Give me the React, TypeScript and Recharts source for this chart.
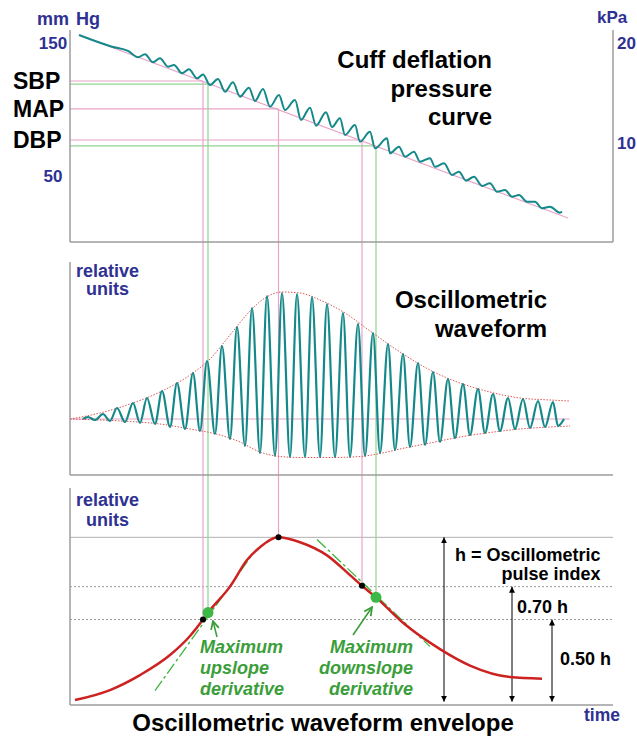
import {
  ComposedChart,
  Line,
  ReferenceDot,
  ReferenceLine,
  XAxis,
  YAxis,
} from 'recharts'

const FONT = '"Liberation Sans", Arial, Helvetica, sans-serif'
const NAVY = '#2e3192'
const TEAL = '#15898a'
const PINK = '#e8a3c8'
const GREEN_LINE = '#8fd48f'
const GREEN = '#3a9e3a'
const RED = '#cc2222'
const AXIS = '#9c9c9c'

// shared time axis (arbitrary units)
const TIME_MAX = 543

// --- cuff deflation pressure curve (mmHg) ---
const pressureTime = [
  9, 42, 58, 68, 75, 83, 90, 98, 104, 112, 119, 127, 133, 140, 148, 155, 163, 170, 179, 185,
  193, 200, 209, 215, 225, 231, 240, 246, 256, 262, 270, 275, 285, 290, 300, 305, 317, 320, 329, 335,
  344, 350, 360, 365, 374, 382, 389, 396, 404, 412, 420, 427, 435, 442, 449, 457, 465, 472, 480, 490,
  492,
]
const pressureMmHg = [
  156.2, 147.4, 144.2, 139.4, 141.7, 135.6, 138.6, 132.3, 133.6, 127.3, 130.3, 123.5, 126.4, 118.5, 123.0, 113.4, 120.5, 109.7, 116.5, 106.4,
  115.5, 102.1, 110.9, 99.6, 107.2, 92.1, 101.4, 87.8, 97.9, 86.8, 93.4, 80.8, 88.3, 75.7, 83.2, 70.7, 78.3, 66.9, 71.9, 64.4,
  68.2, 60.6, 63.2, 56.8, 59.4, 50.6, 53.1, 46.3, 49.3, 42.3, 44.3, 38.0, 39.2, 34.2, 35.5, 30.4, 30.4, 25.4, 26.6, 22.1,
  23.0,
]
const cuffBaseTime = [9, 498]
const cuffBaseMmHg = [156.2, 18.1]

const pressureTicks = [150, 121.5, 100.4, 77, 50]
const pressureTickLabels = ['150', 'SBP', 'MAP', 'DBP', '50']
const kpaTicks = [10, 20]

// --- oscillometric waveform (relative units) ---
const waveTime = [
  13, 18, 25, 33, 40, 47, 55, 63, 70, 77, 85, 92, 100, 107, 115, 123, 130, 137, 145, 152,
  160, 167, 175, 182, 190, 197, 205, 212, 220, 227, 235, 242, 250, 257, 265, 273, 280, 288, 295, 303,
  310, 318, 325, 333, 340, 348, 355, 363, 370, 378, 385, 393, 400, 408, 415, 423, 430, 438, 445, 453,
  460, 468, 475, 483, 488, 494,
]
const waveValue = [
  0, 2, -1, 5, -2, 11, -3, 16, -4, 21, -5, 28, -8, 36, -10, 46, -12, 58, -15, 73,
  -20, 92, -27, 111, -34, 123, -37, 126, -38, 125, -38, 122, -38, 115, -38, 106, -38, 95, -37, 86,
  -34, 75, -31, 65, -28, 56, -26, 47, -23, 40, -19, 35, -16, 30, -14, 25, -12, 21, -10, 20,
  -9, 18, -8, 17, -7, 0,
]
const upperEnvTime = [0, 30, 60, 90, 120, 140, 160, 180, 195, 212, 230, 250, 275, 300, 330, 360, 390, 420, 450, 480, 500]
const upperEnvValue = [0, 6, 15, 27, 44, 60, 84, 108, 121, 127, 126, 119, 106, 88, 67, 49, 36, 27, 21, 19, 18]
const lowerEnvTime = [0, 30, 60, 90, 120, 150, 170, 190, 210, 230, 260, 290, 310, 330, 360, 390, 420, 450, 480, 500]
const lowerEnvValue = [0, -1, -2.5, -5, -10, -16, -23, -33, -37.5, -38.5, -38.5, -37.5, -34.5, -30, -24, -18, -13.5, -10, -8, -7]

// --- oscillometric waveform envelope (fraction of h) ---
const envelopeTime = [5, 40, 70, 100, 120, 133, 138, 160, 177, 190, 208, 230, 257, 280, 292, 306, 333, 370, 400, 440, 472]
const envelopeValue = [0.01, 0.071, 0.162, 0.284, 0.4, 0.5, 0.542, 0.7, 0.862, 0.94, 1.0, 0.97, 0.89, 0.77, 0.705, 0.635, 0.48, 0.32, 0.22, 0.15, 0.14]
const upTangentTime = [85, 182]
const upTangentValue = [0.067, 0.892]
const downTangentTime = [247, 360]
const downTangentValue = [0.987, 0.335]
const levelLines = [1, 0.7, 0.5]
const hArrowTime = [374, 442, 482]
const hArrowLevel = [1, 0.7, 0.5]
const slopeArrowFrom = [[147, 0.394], [283, 0.406]]
const slopeArrowTo = [[143, 0.49], [302, 0.575]]

// --- SBP / MAP / DBP guide lines (pink = ratio method, green = derivative method) ---
const guideTime = [133, 138, 208.5, 292, 306]
const guideMmHg = [121.5, 119.2, 100.4, 77, 72.5]
const guideEnvelope = [0.5, 0.542, 1, 0.705, 0.635]
const guideMethod = ['ratio', 'slope', 'ratio', 'ratio', 'slope']

const toPoints = (xs: number[], ys: number[]) => xs.map((t, i) => ({ t, v: ys[i] }))

const pressureData = toPoints(pressureTime, pressureMmHg)
const cuffBaseData = toPoints(cuffBaseTime, cuffBaseMmHg)
const waveData = toPoints(waveTime, waveValue)
const upperEnvData = toPoints(upperEnvTime, upperEnvValue)
const lowerEnvData = toPoints(lowerEnvTime, lowerEnvValue)
const envelopeData = toPoints(envelopeTime, envelopeValue)
const upTangentData = toPoints(upTangentTime, upTangentValue)
const downTangentData = toPoints(downTangentTime, downTangentValue)

const guideColor = (i: number) => (guideMethod[i] === 'ratio' ? PINK : GREEN_LINE)

function PressureTick(props: any) {
  const { y, payload } = props
  const label = pressureTickLabels[pressureTicks.indexOf(payload.value)]
  if (label === 'SBP' || label === 'MAP' || label === 'DBP') {
    return (
      <text x={13} y={y} dy="0.36em" fontFamily={FONT} fontWeight="bold" fontSize={23} fill="#000">
        {label}
      </text>
    )
  }
  return (
    <text x={53} y={y} dy="0.36em" textAnchor="middle" fontFamily={FONT} fontWeight="bold" fontSize={17} fill={NAVY}>
      {label}
    </text>
  )
}

const timeAxis = (height: number) => (
  <XAxis
    type="number"
    dataKey="t"
    domain={[0, TIME_MAX]}
    allowDataOverflow
    height={height}
    tick={false}
    tickLine={false}
    axisLine={{ stroke: AXIS, strokeWidth: 1.5 }}
  />
)

function CuffPanel() {
  return (
    <ComposedChart width={637} height={262} margin={{ top: 30, right: 0, bottom: 0, left: 0 }}>
      {timeAxis(20)}
      <YAxis
        yAxisId="mmHg"
        type="number"
        domain={[0, 160]}
        allowDataOverflow
        width={70}
        ticks={pressureTicks}
        interval={0}
        tick={(p: any) => <PressureTick {...p} />}
        tickLine={false}
        axisLine={{ stroke: AXIS, strokeWidth: 1.5 }}
      />
      <YAxis
        yAxisId="kPa"
        orientation="right"
        type="number"
        domain={[0, 160 / 7.50062]}
        allowDataOverflow
        width={24}
        ticks={kpaTicks}
        interval={0}
        tickSize={0}
        tickMargin={4}
        tickLine={false}
        tick={{ fill: NAVY, fontSize: 17, fontWeight: 'bold', fontFamily: FONT }}
        axisLine={{ stroke: AXIS, strokeWidth: 1.5 }}
      />
      {guideTime.map((t, i) => (
        <ReferenceLine
          key={`h${i}`}
          yAxisId="mmHg"
          segment={[{ x: 0, y: guideMmHg[i] }, { x: t, y: guideMmHg[i] }]}
          stroke={guideColor(i)}
          strokeWidth={1.2}
          ifOverflow="visible"
        />
      ))}
      {guideTime.map((t, i) => (
        <ReferenceLine
          key={`v${i}`}
          yAxisId="mmHg"
          segment={[{ x: t, y: guideMmHg[i] }, { x: t, y: -16 }]}
          stroke={guideColor(i)}
          strokeWidth={1.2}
          ifOverflow="visible"
        />
      ))}
      <Line
        yAxisId="mmHg"
        data={cuffBaseData}
        dataKey="v"
        type="linear"
        stroke={PINK}
        strokeWidth={1.2}
        dot={false}
        isAnimationActive={false}
      />
      <Line
        yAxisId="mmHg"
        data={pressureData}
        dataKey="v"
        type="monotone"
        stroke={TEAL}
        strokeWidth={2}
        dot={false}
        isAnimationActive={false}
      />
    </ComposedChart>
  )
}

function WavePanel() {
  return (
    <ComposedChart width={637} height={226} margin={{ top: 0, right: 24, bottom: 0, left: 0 }}>
      {timeAxis(13)}
      <YAxis
        type="number"
        domain={[-56, 157]}
        allowDataOverflow
        width={70}
        tick={false}
        tickLine={false}
        axisLine={{ stroke: AXIS, strokeWidth: 1.5 }}
      />
      {guideTime.map((t, i) => (
        <ReferenceLine
          key={`v${i}`}
          segment={[{ x: t, y: -70 }, { x: t, y: 160 }]}
          stroke={guideColor(i)}
          strokeWidth={1.2}
          ifOverflow="visible"
        />
      ))}
      <ReferenceLine
        segment={[{ x: 0, y: 0 }, { x: 500, y: 0 }]}
        stroke={PINK}
        strokeWidth={1.2}
        ifOverflow="visible"
      />
      <Line data={upperEnvData} dataKey="v" type="monotone" stroke="#e05555" strokeWidth={1} strokeDasharray="1.5 1.5" dot={false} isAnimationActive={false} />
      <Line data={lowerEnvData} dataKey="v" type="monotone" stroke="#e05555" strokeWidth={1} strokeDasharray="1.5 1.5" dot={false} isAnimationActive={false} />
      <Line data={waveData} dataKey="v" type="monotone" stroke={TEAL} strokeWidth={2.2} dot={false} isAnimationActive={false} />
    </ComposedChart>
  )
}

function EnvelopePanel() {
  return (
    <ComposedChart width={637} height={252} margin={{ top: 0, right: 24, bottom: 0, left: 0 }}>
      <defs>
        <marker id="arrow-black" viewBox="0 0 10 10" refX="10" refY="5" markerWidth="6" markerHeight="7" markerUnits="userSpaceOnUse" orient="auto-start-reverse">
          <path d="M0,0 L10,5 L0,10 z" fill="#000" />
        </marker>
        <marker id="arrow-green" viewBox="0 0 10 10" refX="9" refY="5" markerWidth="10" markerHeight="10" markerUnits="userSpaceOnUse" orient="auto">
          <path d="M1,1 L9,5 L1,9" fill="none" stroke={GREEN} strokeWidth={1.8} />
        </marker>
      </defs>
      {timeAxis(35)}
      <YAxis
        type="number"
        domain={[-0.02, 1.3]}
        allowDataOverflow
        width={70}
        tick={false}
        tickLine={false}
        axisLine={{ stroke: AXIS, strokeWidth: 1.5 }}
      />
      {levelLines.map((lv, i) => (
        <ReferenceLine
          key={`l${i}`}
          y={lv}
          stroke={i === 0 ? '#b0b0b0' : '#9a9a9a'}
          strokeWidth={1}
          strokeDasharray={i === 0 ? undefined : '2 2'}
        />
      ))}
      {guideTime.map((t, i) => (
        <ReferenceLine
          key={`v${i}`}
          segment={[{ x: t, y: guideEnvelope[i] }, { x: t, y: 1.32 }]}
          stroke={guideColor(i)}
          strokeWidth={1.2}
          ifOverflow="visible"
        />
      ))}
      {hArrowTime.map((t, i) => (
        <ReferenceLine
          key={`a${i}`}
          segment={[{ x: t, y: 0 }, { x: t, y: hArrowLevel[i] }]}
          stroke="#000"
          strokeWidth={1}
          markerStart="url(#arrow-black)"
          markerEnd="url(#arrow-black)"
          ifOverflow="visible"
        />
      ))}
      <Line data={upTangentData} dataKey="v" type="linear" stroke="#3cb43c" strokeWidth={1.3} strokeDasharray="12 3 3 3" dot={false} isAnimationActive={false} />
      <Line data={downTangentData} dataKey="v" type="linear" stroke="#3cb43c" strokeWidth={1.3} strokeDasharray="12 3 3 3" dot={false} isAnimationActive={false} />
      <Line data={envelopeData} dataKey="v" type="monotone" stroke={RED} strokeWidth={2.5} dot={false} isAnimationActive={false} />
      {slopeArrowFrom.map((from, i) => (
        <ReferenceLine
          key={`g${i}`}
          segment={[{ x: from[0], y: from[1] }, { x: slopeArrowTo[i][0], y: slopeArrowTo[i][1] }]}
          stroke={GREEN}
          strokeWidth={1.6}
          markerEnd="url(#arrow-green)"
          ifOverflow="visible"
        />
      ))}
      {guideTime.map((t, i) =>
        guideMethod[i] === 'ratio' ? (
          <ReferenceDot key={`d${i}`} x={t} y={guideEnvelope[i]} r={3} fill="#000" stroke="none" />
        ) : (
          <ReferenceDot key={`d${i}`} x={t} y={guideEnvelope[i]} r={5.5} fill="#3cb846" stroke="none" />
        ),
      )}
    </ComposedChart>
  )
}

function Annotations() {
  const t = { fontFamily: FONT, fontWeight: 'bold' as const }
  const green = { ...t, fill: GREEN, fontStyle: 'italic' as const, fontSize: 18 }
  return (
    <svg width={637} height={740} style={{ position: 'absolute', left: 0, top: 0, pointerEvents: 'none' }}>
      <text {...t} y={25} fontSize={18} fill={NAVY}>
        <tspan x={37}>mm</tspan>
        <tspan x={76}>Hg</tspan>
      </text>
      <text {...t} x={597} y={23} fontSize={17} fill={NAVY}>kPa</text>
      <text {...t} x={492} y={68} fontSize={24} textAnchor="end">Cuff deflation</text>
      <text {...t} x={492} y={96.5} fontSize={24} textAnchor="end">pressure</text>
      <text {...t} x={492} y={125} fontSize={24} textAnchor="end">curve</text>

      <text {...t} x={107.5} y={276.5} fontSize={18} fill={NAVY} textAnchor="middle">relative</text>
      <text {...t} x={107.5} y={295} fontSize={18} fill={NAVY} textAnchor="middle">units</text>
      <text {...t} x={547} y={308} fontSize={24} textAnchor="end">Oscillometric</text>
      <text {...t} x={547} y={336.5} fontSize={24} textAnchor="end">waveform</text>

      <text {...t} x={107.5} y={506} fontSize={18} fill={NAVY} textAnchor="middle">relative</text>
      <text {...t} x={107.5} y={525.5} fontSize={18} fill={NAVY} textAnchor="middle">units</text>
      <text {...t} x={600.5} y={561} fontSize={18} textAnchor="end">h = Oscillometric</text>
      <text {...t} x={600.5} y={580} fontSize={18} textAnchor="end">pulse index</text>
      <text {...t} x={517} y={613} fontSize={18}>0.70 h</text>
      <text {...t} x={560} y={665} fontSize={18}>0.50 h</text>

      <text {...green} x={200} y={653}>Maximum</text>
      <text {...green} x={200} y={674}>upslope</text>
      <text {...green} x={200} y={695}>derivative</text>
      <text {...green} x={413} y={653} textAnchor="end">Maximum</text>
      <text {...green} x={413} y={674} textAnchor="end">downslope</text>
      <text {...green} x={413} y={695} textAnchor="end">derivative</text>

      <text {...t} x={323} y={731} fontSize={24} textAnchor="middle">Oscillometric waveform envelope</text>
      <text {...t} x={584} y={720.5} fontSize={17.5} fill={NAVY}>time</text>
    </svg>
  )
}

export default function App() {
  return (
    <div style={{ position: 'relative', width: 637, height: 740, background: '#fff', fontFamily: FONT }}>
      <style>{'body { margin: 0; }'}</style>
      <div style={{ position: 'absolute', left: 0, top: 0 }}>
        <CuffPanel />
      </div>
      <div style={{ position: 'absolute', left: 0, top: 262 }}>
        <WavePanel />
      </div>
      <div style={{ position: 'absolute', left: 0, top: 488 }}>
        <EnvelopePanel />
      </div>
      <Annotations />
    </div>
  )
}
